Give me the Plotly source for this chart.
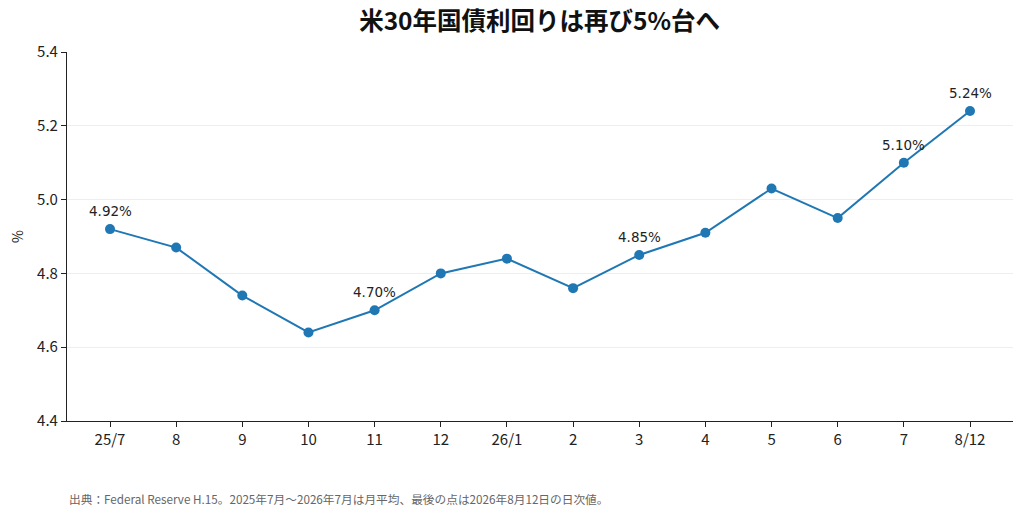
import plotly.graph_objects as go

months = ["25/7", "8", "9", "10", "11", "12", "26/1", "2", "3", "4", "5", "6", "7", "8/12"]
yields = [4.92, 4.87, 4.74, 4.64, 4.70, 4.80, 4.84, 4.76, 4.85, 4.91, 5.03, 4.95, 5.10, 5.24]
labeled = [0, 4, 8, 12, 13]

title_text = "米30年国債利回りは再び5%台へ"
source_text = "出典：Federal Reserve H.15。2025年7月〜2026年7月は月平均、最後の点は2026年8月12日の日次値。"

x_idx = list(range(len(months)))

fig = go.Figure()
fig.add_trace(go.Scatter(
    x=x_idx, y=yields,
    mode="lines+markers",
    line=dict(color="#1f77b4", width=2),
    marker=dict(color="#1f77b4", size=10),
    showlegend=False,
))

for i in labeled:
    fig.add_annotation(
        x=x_idx[i], y=yields[i], text=f"{yields[i]:.2f}%",
        showarrow=False, yshift=18,
        font=dict(family="DejaVu Sans", size=13.5, color="#222"),
    )

fig.add_annotation(
    text=source_text, xref="paper", yref="paper", x=0, y=-0.211,
    xanchor="left", yanchor="middle", showarrow=False,
    font=dict(family="Noto Sans CJK JP", size=11.7, color="#666"),
)

fig.update_layout(
    width=1024, height=518,
    margin=dict(l=67, r=11, t=52, b=97, autoexpand=False),
    paper_bgcolor="white", plot_bgcolor="white",
    font=dict(family="Noto Sans CJK JP", color="#222"),
    title=dict(text=f"<b>{title_text}</b>", x=0.527, xanchor="center",
               y=0.958, yanchor="middle",
               font=dict(family="Noto Sans CJK JP", size=24.5, color="#111")),
    xaxis=dict(
        tickmode="array", tickvals=x_idx, ticktext=months,
        range=[-0.65, 13.65], showgrid=False, zeroline=False,
        showline=True, linecolor="#222", linewidth=1.2,
        ticks="outside", ticklen=5, tickcolor="#222",
        tickfont=dict(size=15), automargin=False,
    ),
    yaxis=dict(
        range=[4.4, 5.4], tickvals=[4.4, 4.6, 4.8, 5.0, 5.2, 5.4],
        tickformat=".1f", showgrid=True, gridcolor="#eeeeee", gridwidth=1,
        zeroline=False, showline=True, linecolor="#222", linewidth=1.2,
        ticks="outside", ticklen=5, tickcolor="#222",
        tickfont=dict(size=15), automargin=False,
        title=dict(text="%", font=dict(size=14), standoff=10),
    ),
)

# drop the default 8px page margin so the figure fills the window exactly
fig.write_html("out.html", config={"displayModeBar": False},
               post_script="document.body.style.margin='0';")
